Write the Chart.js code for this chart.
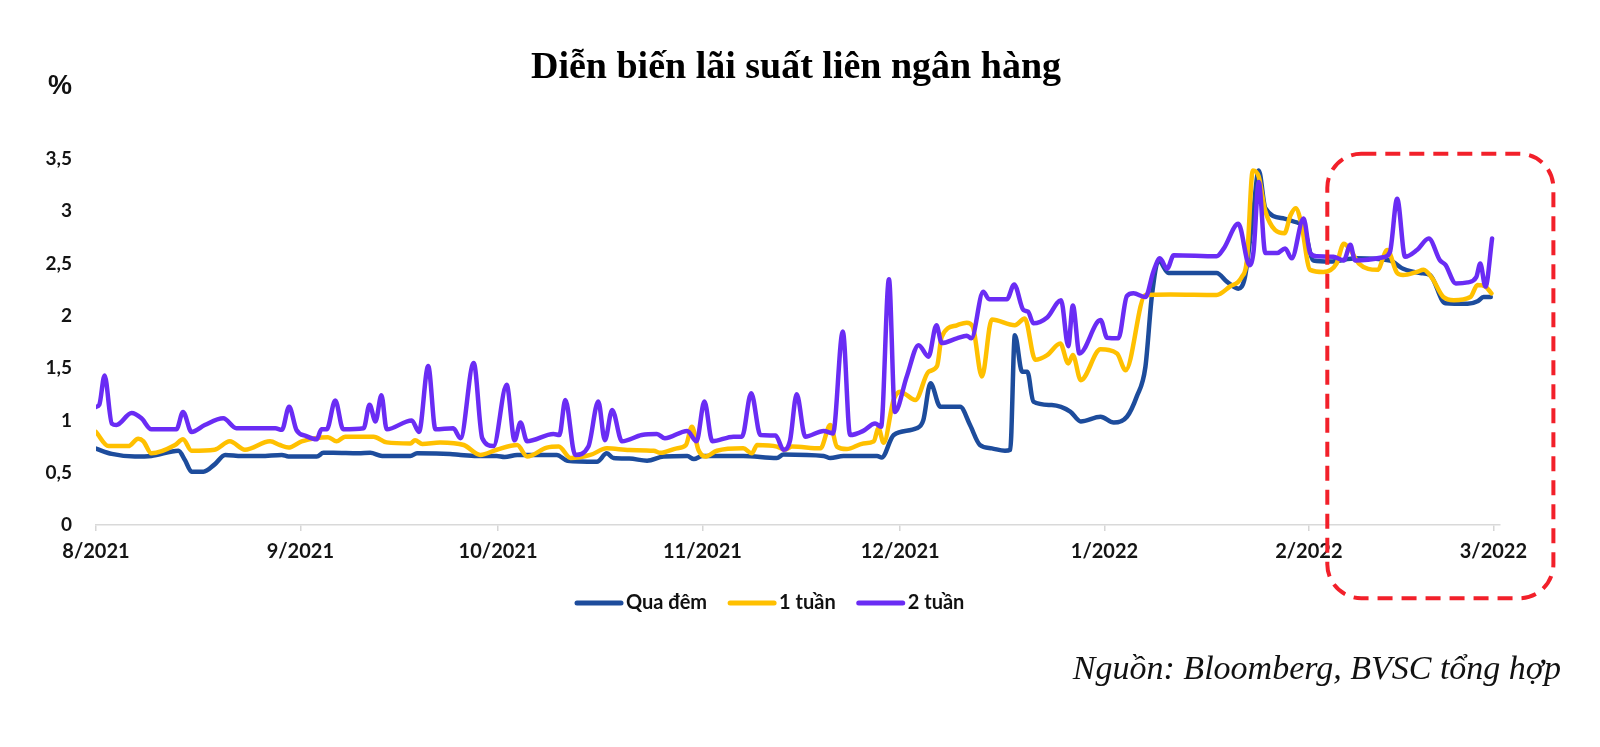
<!DOCTYPE html>
<html lang="vi">
<head>
<meta charset="utf-8">
<title>Diễn biến lãi suất liên ngân hàng</title>
<script src="https://cdn.jsdelivr.net/npm/chart.js@4.4.1/dist/chart.umd.min.js"></script>
<style>
  html, body { margin: 0; padding: 0; background: #fff; }
  #wrap { width: 1600px; height: 747px; }
</style>
</head>
<body>
<div id="wrap"><canvas id="rateChart" width="1600" height="747"></canvas></div>
<script>
// x values are days counted from 1/8/2021
const monthDays = [0, 31, 61, 92, 122, 153, 184, 212];
const monthLabels = ['8/2021', '9/2021', '10/2021', '11/2021', '12/2021', '1/2022', '2/2022', '3/2022'];
const yTickValues = [0, 0.5, 1, 1.5, 2, 2.5, 3, 3.5];
const yTickLabels = ['0', '0,5', '1', '1,5', '2', '2,5', '3', '3,5'];
const seriesNames = ['Qua đêm', '1 tuần', '2 tuần'];

// Qua đêm
const overnightDays = [0, 2.4, 5.9, 8.4, 12.5, 13.5, 14.5, 16.3, 18, 19.6, 22.1, 25, 28.2, 29.2, 33.5, 34.5, 36, 39.8,
  41.6, 43.4, 47.7, 48.7, 53.7, 55.3, 57.8, 60.8, 62, 63.9, 69.9, 71.5, 76, 77.5, 78.5, 80.9, 83.6, 86.1, 89.7, 90.7,
  92, 98.2, 103.3, 104.3, 110.4, 111.4, 113.4, 118.5, 119.2, 121, 124.5, 125.5, 126.6, 128.1, 131.1, 132.6, 134.1,
  135.9, 137.9, 138.7, 139.4, 140.5, 141.3, 142.2, 145, 147.8, 149.4, 152.4, 154.4, 156.4, 157.9, 159.2, 160.2, 161.2,
  162.7, 170, 171.6, 173.3, 174.3, 175.5, 176.4, 177.4, 180.3, 181.8, 183.2, 184.7, 187.2, 191.2, 196.3, 198.3, 200.9,
  202.4, 204.7, 208.1, 209.6, 210.5, 211.6];
const overnightRates = [0.73, 0.68, 0.655, 0.66, 0.71, 0.62, 0.51, 0.51, 0.58, 0.67, 0.66, 0.66, 0.67, 0.655, 0.655, 0.69, 0.69, 0.685,
  0.69, 0.66, 0.66, 0.685, 0.68, 0.67, 0.66, 0.66, 0.65, 0.67, 0.67, 0.615, 0.605, 0.685, 0.64, 0.635, 0.615, 0.655, 0.66, 0.63,
  0.66, 0.66, 0.64, 0.675, 0.66, 0.64, 0.66, 0.66, 0.645, 0.86, 0.925, 1.0, 1.355, 1.13, 1.13, 0.956, 0.765,
  0.733, 0.71, 0.72, 1.815, 1.465, 1.465, 1.18, 1.147, 1.085, 0.99, 1.035, 0.98, 1.035, 1.23, 1.51, 2.2, 2.53,
  2.41, 2.41, 2.325, 2.26, 2.37, 2.95, 3.39, 3.03, 2.93, 2.9, 2.85, 2.53, 2.52, 2.55, 2.53, 2.45, 2.41,
  2.39, 2.12, 2.115, 2.14, 2.18, 2.18];

// 1 tuần
const week1Days = [0, 1.9, 4.9, 6.4, 7.2, 8.4, 12, 13.2, 14.5, 18, 20.3, 22.6, 26.4, 27.9, 29.2, 31.2, 35.2, 36.5, 37.8,
  42.1, 44.1, 47.7, 48.4, 49.5, 52.2, 55.8, 58.3, 60.8, 63.9, 65.4, 68.4, 70.2, 72, 75, 77.5, 80.9, 84.6, 85.6, 88.1,
  89.5, 90.4, 91.4, 92.4, 94.2, 98.2, 99.5, 100.3, 103.3, 104.5, 105.6, 109.9, 111.4, 112.4, 113.9, 116.4, 118, 118.7,
  119.5, 121, 122, 124.3, 126.3, 127.6, 128.3, 130.6, 132.1, 133, 134.4, 135.9, 139.4, 140.9, 142.5, 144.3, 146.3,
  147.5, 148.2, 149.4, 152.4, 154.9, 156.2, 159.2, 163, 170, 172, 173.8, 174.6, 175.5, 176.4, 177.4, 180.3, 181.2,
  182, 182.8, 184.2, 186.2, 188.2, 189.3, 190.3, 191.6, 194.4, 195.9, 197.4, 198.3, 200.4, 201.4, 202.7, 204.4, 206,
  208.5, 209.6, 210.8, 211.7];
const week1Rates = [0.89, 0.755, 0.755, 0.825, 0.8, 0.685, 0.765, 0.82, 0.71, 0.72, 0.8, 0.72, 0.8, 0.765, 0.74, 0.8, 0.84, 0.8, 0.845,
  0.845, 0.79, 0.78, 0.81, 0.775, 0.79, 0.765, 0.67, 0.72, 0.765, 0.655, 0.74, 0.75, 0.64, 0.67, 0.733, 0.717, 0.71, 0.69, 0.733,
  0.765, 0.94, 0.717, 0.655, 0.71, 0.733, 0.685, 0.765, 0.75, 0.72, 0.75, 0.733, 0.956, 0.75, 0.727, 0.78, 0.8, 0.925,
  0.787, 1.195, 1.275, 1.195, 1.465, 1.52, 1.8, 1.91, 1.935, 1.9, 1.42, 1.965, 1.91, 1.975, 1.58, 1.625, 1.735,
  1.545, 1.625, 1.385, 1.68, 1.64, 1.48, 2.2, 2.205, 2.2, 2.28, 2.37, 2.53, 3.39, 3.33, 3.0, 2.79, 2.96,
  3.03, 2.9, 2.44, 2.42, 2.5, 2.69, 2.63, 2.5, 2.44, 2.63, 2.41, 2.39, 2.42, 2.44, 2.36, 2.18, 2.15,
  2.18, 2.295, 2.28, 2.215];

// 2 tuần
const week2Days = [0, 0.5, 1.3, 2.4, 3.1, 5.4, 6.9, 8.4, 12.2, 13.2, 14.5, 16.5, 19.3, 21.3, 27.2, 28.2, 29.3, 30.4, 31.9,
  33.5, 34.2, 35, 36.3, 37.5, 40.6, 41.5, 42.4, 43.3, 44.1, 47.9, 49, 50.4, 51.5, 54.2, 55.3, 57.3, 58.6, 60.3, 62.3,
  63.5, 64.4, 65.4, 69.4, 70.3, 71.2, 72.7, 74.7, 76.2, 77.2, 78.3, 79.8, 82.8, 85.1, 86.3, 89.7, 91.1, 92.3, 93.5,
  96.7, 98, 99.4, 100.8, 103.1, 104.3, 105.3, 106.3, 107.6, 110.4, 111.8, 113.3, 114.4, 116.4, 118.2, 119.1, 120.3,
  121.2, 123, 124.8, 126.3, 127.5, 128.3, 130.6, 132.1, 132.8, 134.6, 135.5, 138.2, 139.3, 140.7, 141.4, 142.2, 144.3,
  146.4, 147.5, 148.2, 149.2, 152.4, 153.4, 155.1, 156.4, 157.4, 159.2, 160.4, 161.4, 162.5, 163.5, 170, 171.1, 173.3,
  175, 175.6, 176.4, 177.4, 179.2, 180.4, 181.4, 183.2, 184.2, 185.2, 187.7, 189.3, 190.3, 191, 195.3, 196.3, 197.4,
  198.6, 200.4, 202.2, 203.9, 204.7, 206.3, 208.1, 209.4, 210, 210.8, 211.8];
const week2Rates = [1.13, 1.15, 1.43, 0.97, 0.956, 1.07, 1.02, 0.915, 0.915, 1.08, 0.89, 0.956, 1.02, 0.925, 0.925, 0.91, 1.13, 0.91, 0.85,
  0.82, 0.915, 0.915, 1.19, 0.915, 0.925, 1.15, 0.99, 1.24, 0.915, 1.0, 0.89, 1.52, 0.915, 0.925, 0.83, 1.55, 0.83, 0.755, 1.34,
  0.81, 0.98, 0.8, 0.87, 0.86, 1.195, 0.67, 0.75, 1.18, 0.81, 1.1, 0.8, 0.86, 0.87, 0.83, 0.9, 0.8, 1.18, 0.8,
  0.845, 0.845, 1.26, 0.86, 0.855, 0.72, 0.81, 1.25, 0.845, 0.9, 0.875, 1.85, 0.86, 0.9, 0.97, 0.94, 2.35,
  1.08, 1.42, 1.72, 1.61, 1.91, 1.74, 1.785, 1.81, 1.785, 2.23, 2.16, 2.16, 2.3, 2.055, 2.04, 1.93, 1.985,
  2.15, 1.71, 2.1, 1.64, 1.96, 1.79, 1.785, 2.19, 2.215, 2.18, 2.42, 2.55, 2.45, 2.58, 2.57, 2.645, 2.88,
  2.485, 2.61, 3.28, 2.6, 2.6, 2.645, 2.55, 2.93, 2.6, 2.57, 2.565, 2.53, 2.68, 2.53, 2.56, 2.61, 3.12,
  2.565, 2.63, 2.74, 2.53, 2.49, 2.31, 2.32, 2.37, 2.5, 2.28, 2.74];

const seriesColors = ['#1d4c9c', '#ffc000', '#6a2cf4'];
const chartTitle = 'Diễn biến lãi suất liên ngân hàng';
const sourceNote = 'Nguồn: Bloomberg, BVSC tổng hợp';

function toPoints(days, rates) {
    return days.map((d, i) => ({ x: d, y: rates[i] }));
}

// extra drawing: title, % label, legend, source note, highlight box
const extrasPlugin = {
    id: 'extras',
    afterDraw(chart) {
        const ctx = chart.ctx;
        const xs = chart.scales.x;
        const ys = chart.scales.y;
        ctx.save();

        ctx.fillStyle = '#000';
        ctx.font = 'bold 38px "Liberation Serif", "Times New Roman", serif';
        ctx.textAlign = 'center';
        ctx.textBaseline = 'middle';
        ctx.fillText(chartTitle, 796, 68);

        ctx.fillStyle = '#111';
        ctx.font = 'bold 27px "Liberation Sans", Arial, sans-serif';
        ctx.fillText('%', 60, 87);

        // legend
        ctx.font = 'bold 20px Lato, sans-serif';
        ctx.textAlign = 'left';
        let lx = 577;
        const ly = 603;
        chart.data.datasets.forEach(ds => {
            ctx.strokeStyle = ds.borderColor;
            ctx.lineWidth = 5;
            ctx.lineCap = 'round';
            ctx.beginPath();
            ctx.moveTo(lx, ly);
            ctx.lineTo(lx + 44, ly);
            ctx.stroke();
            ctx.fillStyle = '#111';
            ctx.fillText(ds.label, lx + 49, ly);
            lx += 49 + ctx.measureText(ds.label).width + 23;
        });

        // source
        ctx.font = 'italic 34px "Liberation Serif", "Times New Roman", serif';
        ctx.textAlign = 'right';
        ctx.fillStyle = '#111';
        ctx.fillText(sourceNote, 1561, 670);

        // red dashed rounded box around Feb 2022
        const left = xs.getPixelForValue(186.8);
        const right = xs.getPixelForValue(221.1);
        const top = ys.getPixelForValue(3.55);
        const bottom = ys.getPixelForValue(-0.7);
        ctx.strokeStyle = '#f2202a';
        ctx.lineWidth = 4;
        ctx.lineCap = 'butt';
        ctx.setLineDash([15, 9]);
        ctx.beginPath();
        ctx.roundRect(left, top, right - left, bottom - top, 34);
        ctx.stroke();

        ctx.restore();
    }
};

const ctx = document.getElementById('rateChart').getContext('2d');
const rateChart = new Chart(ctx, {
    type: 'line',
    data: {
        datasets: [
            { label: seriesNames[0], data: toPoints(overnightDays, overnightRates), borderColor: seriesColors[0], order: 2 },
            { label: seriesNames[1], data: toPoints(week1Days, week1Rates), borderColor: seriesColors[1], order: 1 },
            { label: seriesNames[2], data: toPoints(week2Days, week2Rates), borderColor: seriesColors[2], order: 0 }
        ]
    },
    options: {
        responsive: false,
        animation: false,
        layout: { padding: { left: 0, right: 100, top: 159, bottom: 0 } },
        elements: {
            point: { radius: 0 },
            line: {
                borderWidth: 4.5,
                cubicInterpolationMode: 'monotone',
                borderJoinStyle: 'round',
                borderCapStyle: 'round',
                fill: false
            }
        },
        plugins: {
            legend: { display: false },
            tooltip: { enabled: false },
            title: { display: false }
        },
        scales: {
            x: {
                type: 'linear',
                min: 0,
                max: 213,
                afterBuildTicks: function(scale) {
                    scale.ticks = monthDays.map(v => ({ value: v }));
                },
                afterFit: function(scale) {
                    scale.height = 222;
                },
                grid: {
                    display: true,
                    drawOnChartArea: false,
                    drawTicks: true,
                    tickLength: 6,
                    color: '#d6d6d6',
                    lineWidth: 1.5
                },
                border: { display: true, color: '#d9d9d9', width: 1.5 },
                ticks: {
                    padding: 9,
                    maxRotation: 0,
                    autoSkip: false,
                    color: '#141414',
                    font: { family: 'Lato, sans-serif', size: 20, weight: 'bold' },
                    callback: function(value, index) {
                        return monthLabels[index];
                    }
                }
            },
            y: {
                min: 0,
                max: 3.5,
                afterBuildTicks: function(scale) {
                    scale.ticks = yTickValues.map(v => ({ value: v }));
                },
                afterFit: function(scale) {
                    scale.width = 96;
                },
                grid: { display: false, drawTicks: false },
                border: { display: false },
                ticks: {
                    padding: 24,
                    color: '#141414',
                    font: { family: 'Lato, sans-serif', size: 19, weight: 'bold' },
                    callback: function(value, index) {
                        return yTickLabels[index];
                    }
                }
            }
        }
    },
    plugins: [extrasPlugin]
});
</script>
</body>
</html>
